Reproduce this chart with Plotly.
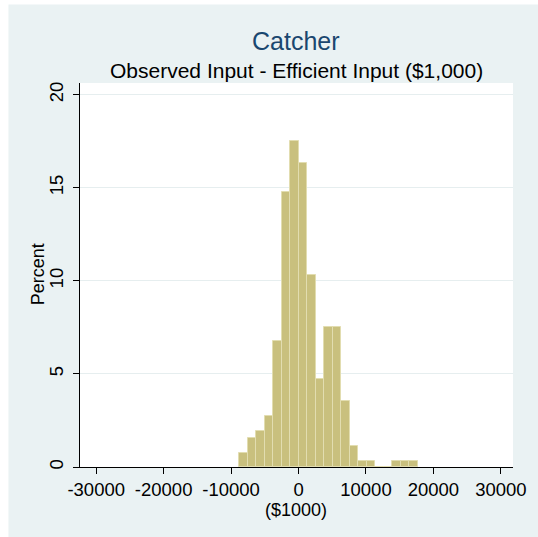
import plotly.graph_objects as go

# Histogram data
bin_start = -8820
bin_width = 1260
percent = [0.74, 1.56, 1.94, 2.74, 6.75, 14.75, 17.53, 16.31, 10.33, 4.75,
           7.52, 7.52, 3.55, 1.15, 0.34, 0.34, 0.0, 0.0, 0.34, 0.34, 0.34]
x_ticks = [-30000, -20000, -10000, 0, 10000, 20000, 30000]
x_tick_labels = ["-30000", "-20000", "-10000", "0", "10000", "20000", "30000"]
y_ticks = [0, 5, 10, 15, 20]
y_tick_labels = ["0", "5", "10", "15", "20"]

centers = [bin_start + (i + 0.5) * bin_width for i in range(len(percent))]

FONT = "Arial, Liberation Sans, sans-serif"
BG = "#EAF2F3"

fig = go.Figure()
fig.add_trace(go.Bar(
    x=centers, y=percent, width=bin_width,
    marker=dict(color="rgb(201,192,126)",
                line=dict(color="rgb(226,221,176)", width=1)),
    hoverinfo="skip",
))

W, H = 538, 537
L, R, T, B = 80, 538 - 521.7, 83.3, 537 - 466.7
pw = W - L - R
ph = H - T - B

def px_x(p):
    return (p - L) / pw

def px_y(p):
    return (H - B - p) / ph

fig.update_layout(
    width=W, height=H,
    margin=dict(l=L, r=R, t=T, b=B, pad=0),
    paper_bgcolor="white", plot_bgcolor="white",
    showlegend=False, bargap=0,
    font=dict(family=FONT, color="black", size=18.5),
    shapes=[
        dict(type="rect", xref="paper", yref="paper", layer="below",
             x0=px_x(7), x1=px_x(560), y0=px_y(560), y1=px_y(5),
             fillcolor=BG, line=dict(width=0)),
        dict(type="rect", xref="paper", yref="paper", layer="below",
             x0=0, x1=1, y0=0, y1=1,
             fillcolor="white", line=dict(width=0)),
    ],
    annotations=[
        dict(text="Catcher", xref="paper", yref="paper", x=px_x(300.5), y=px_y(41),
             xanchor="center", yanchor="middle", showarrow=False,
             font=dict(family=FONT, size=25, color="#1A476F")),
        dict(text="Observed Input - Efficient Input ($1,000)", xref="paper",
             yref="paper", x=px_x(300.5), y=px_y(70.5), xanchor="center",
             yanchor="middle", showarrow=False,
             font=dict(family=FONT, size=21, color="black")),
        dict(text="Percent", xref="paper", yref="paper", x=px_x(37.5),
             y=px_y(274), xanchor="center", yanchor="middle", textangle=-90,
             showarrow=False, font=dict(family=FONT, size=18, color="black")),
        dict(text="($1000)", xref="paper", yref="paper", x=px_x(300.5),
             y=px_y(509.5), xanchor="center", yanchor="middle",
             showarrow=False, font=dict(family=FONT, size=18, color="black")),
    ],
    xaxis=dict(
        range=[-32400, 31800], tickvals=x_ticks, ticktext=x_tick_labels,
        showline=True, linecolor="black", linewidth=1,
        ticks="outside", ticklen=6, tickcolor="black", tickwidth=1,
        showgrid=False, zeroline=False,
    ),
    yaxis=dict(
        range=[0, 20.63], tickvals=y_ticks, ticktext=y_tick_labels,
        tickangle=-90, ticklabelstandoff=3,
        showline=True, linecolor="black", linewidth=1,
        ticks="outside", ticklen=6, tickcolor="black", tickwidth=1,
        showgrid=True, gridcolor="#E6EEEF", gridwidth=1, zeroline=False,
    ),
)

fig.write_html("out.html", config={"displayModeBar": False},
               post_script="document.body.style.margin='0px';")
